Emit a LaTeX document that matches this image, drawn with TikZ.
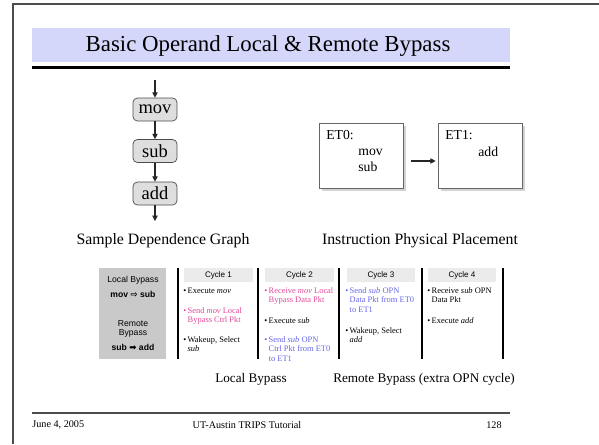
\documentclass[tikz,border=0pt]{standalone}
\usepackage{fontspec}
\setmainfont{Liberation Serif}
\setsansfont{Liberation Sans}
\newfontfamily\arrowsym{DejaVu Sans}
\usepackage{xcolor}
\usepackage{tikz}
\usetikzlibrary{arrows.meta,positioning,calc,shadows}
\definecolor{bandblue}{HTML}{D5D7FA}
\definecolor{pinktext}{HTML}{E2479A}
\definecolor{bluetext}{HTML}{6666E8}
\newcommand{\cycitem}[1]{\textbullet\,\begin{tabular}[t]{@{}l@{}}#1\end{tabular}}

\begin{document}
\begin{tikzpicture}[x=0.02cm,y=-0.02cm,
          every node/.style={inner sep=0pt},
          opbox/.style={draw=black!70,fill=black!13,rounded corners=2.5pt,
                        minimum width=0.88cm,minimum height=0.46cm,font=\fontsize{10.5}{12}\selectfont},
          flow/.style={-{Triangle[length=3pt,width=3pt]},line width=0.6pt,black!85},
          etbox/.style={draw=black!60,fill=white,minimum width=1.68cm,minimum height=1.3cm,
                        drop shadow={shadow xshift=1.6pt,shadow yshift=-1.6pt,opacity=0.35}},
          ettext/.style={font=\fontsize{7.8}{9}\selectfont,align=left},
          caption/.style={font=\fontsize{9}{11}\selectfont},
          subcaption/.style={font=\fontsize{7.5}{9}\selectfont},
          legendtext/.style={font=\sffamily\fontsize{4.9}{5.1}\selectfont,align=center},
          cychead/.style={fill=black!8,minimum width=1.38cm,minimum height=0.28cm,
                          font=\sffamily\fontsize{4.6}{5.5}\selectfont},
          cell/.style={font=\fontsize{4.8}{5.67}\selectfont,anchor=base west},
          bar/.style={line width=1.1pt},
      ]
        \useasboundingbox (0,0) rectangle (599,444);
        \draw[black!70,line width=0.6pt] (13,444) -- (13,4) -- (599,4);
        \fill[bandblue] (32,28) rectangle (510,62);
        \fill[black] (32,65.5) rectangle (510,68.5);
        \node[font=\fontsize{13}{15}\selectfont] (title) at (268,46) {Basic Operand Local \& Remote Bypass};

        \coordinate (graphin) at (155,80);
        \node[opbox] (mov) at (155,109.5) {mov};
        \node[opbox] (sub) at (155,151) {sub};
        \node[opbox] (add) at (155,193.5) {add};
        \coordinate (graphout) at (155,221);
        \draw[flow] (graphin) -- (mov);
        \draw[flow] (mov) -- (sub);
        \draw[flow] (sub) -- (add);
        \draw[flow] (add) -- (graphout);
        \node[caption] (graphcap) at (163,241) {Sample Dependence Graph};

        \node[etbox] (et0) at (361,155.5) {};
        \node[etbox] (et1) at (480,155.5) {};
        \node[ettext,anchor=west] (et0name) at (326,135) {ET0:};
        \node[ettext,anchor=west] (et0ops) at (358,160) {mov\\sub};
        \node[ettext,anchor=west] (et1name) at (445,135) {ET1:};
        \node[ettext,anchor=west] (et1ops) at (478,152) {add};
        \draw[flow] ($(et0.east)+(8,5.5)$) -- ($(et1.west)+(-2,5.5)$);
        \node[caption] (placecap) at (420,241) {Instruction Physical Placement};

        \node[fill=black!21,minimum width=1.34cm,minimum height=1.82cm] (legend) at (132.5,313.5) {};
        \node[legendtext] (localname) at (133,280) {Local Bypass};
        \node[legendtext] (localpair) at (133,294.5) {\textbf{mov~{\arrowsym ⇨}~sub}};
        \node[legendtext] (remotename) at (133,328.5) {Remote\\Bypass};
        \node[legendtext] (remotepair) at (133,347) {\textbf{sub~{\arrowsym ➡}~add}};

        \node[cychead] (head1) at (218.5,275) {Cycle 1};
        \node[cychead] (head2) at (299.5,275) {Cycle 2};
        \node[cychead] (head3) at (381,275) {Cycle 3};
        \node[cychead] (head4) at (462,275) {Cycle 4};
        \foreach \x in {178,258,339,422,503}
          \draw[bar] (\x,268) -- (\x,359);

        \node[cell] (c1a) at (183,293) {\cycitem{Execute \emph{mov}}};
        \node[cell,text=pinktext] (c1b) at (183,313) {\cycitem{Send \emph{mov} Local\\Bypass Ctrl Pkt}};
        \node[cell] (c1c) at (183,342) {\cycitem{Wakeup, Select\\\emph{sub}}};
        \node[cell,text=pinktext] (c2a) at (264,293) {\cycitem{Receive \emph{mov} Local\\Bypass Data Pkt}};
        \node[cell] (c2b) at (264,323) {\cycitem{Execute \emph{sub}}};
        \node[cell,text=bluetext] (c2c) at (264,342) {\cycitem{Send \emph{sub} OPN\\Ctrl Pkt from ET0\\to ET1}};
        \node[cell,text=bluetext] (c3a) at (345,293) {\cycitem{Send \emph{sub} OPN\\Data Pkt from ET0\\to ET1}};
        \node[cell] (c3b) at (345,333) {\cycitem{Wakeup, Select\\\emph{add}}};
        \node[cell] (c4a) at (427,293) {\cycitem{Receive \emph{sub} OPN\\Data Pkt}};
        \node[cell] (c4b) at (427,323) {\cycitem{Execute \emph{add}}};

        \node[subcaption] (localcap) at (251,379) {Local Bypass};
        \node[subcaption] (remotecap) at (424,379) {Remote Bypass (extra OPN cycle)};

        \draw[black!70,line width=0.6pt] (32,413) -- (510,413);
        \node[font=\fontsize{5.8}{7}\selectfont,anchor=west] (date) at (32,425) {June 4, 2005};
        \node[font=\fontsize{5.8}{7}\selectfont] (event) at (247,425) {UT-Austin TRIPS Tutorial};
        \node[font=\fontsize{5.8}{7}\selectfont,anchor=east] (page) at (502,425) {128};
      \end{tikzpicture}
\end{document}
